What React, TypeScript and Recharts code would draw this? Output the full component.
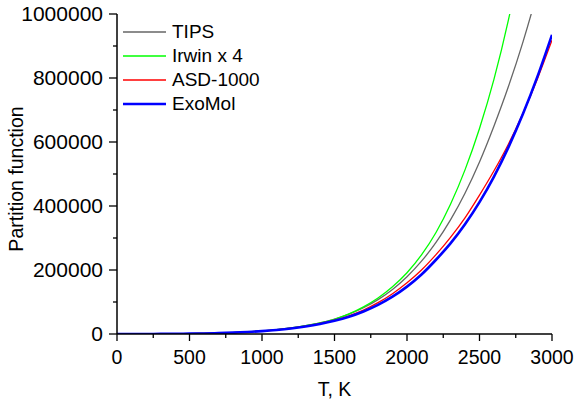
import React from 'react';
import { LineChart, Line, XAxis, YAxis, Legend, Label } from 'recharts';

const temperatures = [0, 100, 200, 300, 400, 500, 600, 700, 800, 900, 1000, 1100, 1200, 1300, 1400, 1500, 1600, 1700, 1800, 1900, 2000, 2100, 2200, 2300, 2400, 2500, 2600, 2700, 2800, 2900, 3000];

const tips = [1, 30, 125, 315, 630, 1080, 1840, 2950, 4450, 6600, 9500, 13500, 18800, 25800, 34600, 46400, 62000, 82000, 107500, 139400, 179000, 227500, 286300, 356800, 440100, 537600, 650100, 774000, 913000, 1071000, 1251000];

const irwinX4 = [4, 32, 128, 320, 640, 1100, 1860, 2980, 4500, 6650, 9600, 13600, 19000, 26000, 35000, 46000, 62800, 84800, 112700, 147700, 191500, 247200, 317300, 405500, 512900, 642300, 796300, 982400, 1205000, 1472000, 1789000];

const asd1000 = [1, 30, 125, 310, 620, 1060, 1800, 2880, 4330, 6400, 9200, 13000, 18000, 24500, 32800, 43000, 57000, 75000, 98000, 126000, 160000, 200000, 248000, 302000, 363000, 434000, 510000, 594000, 690000, 798000, 918000];

const exoMol = [1, 30, 120, 300, 600, 1030, 1750, 2800, 4200, 6200, 8900, 12500, 17200, 23400, 31300, 41300, 54000, 70500, 91000, 116500, 148000, 186000, 232000, 283000, 343000, 412000, 492000, 584000, 688000, 805000, 935000];

const xTicks = [0, 250, 500, 750, 1000, 1250, 1500, 1750, 2000, 2250, 2500, 2750, 3000];
const xTopTicks = [0, 500, 1000, 1500, 2000, 2500, 3000];
const yTicks = [0, 100000, 200000, 300000, 400000, 500000, 600000, 700000, 800000, 900000, 1000000];
const yRightTicks = [0, 200000, 400000, 600000, 800000, 1000000];

const series = [
  { key: 'tips', name: 'TIPS', color: '#666666', width: 1.3 },
  { key: 'irwin', name: 'Irwin x 4', color: '#00FF00', width: 1.3 },
  { key: 'asd', name: 'ASD-1000', color: '#FF0000', width: 1.3 },
  { key: 'exomol', name: 'ExoMol', color: '#0000FF', width: 2.6 },
];

const data = temperatures.map((t, i) => ({
  t,
  tips: tips[i],
  irwin: irwinX4[i],
  asd: asd1000[i],
  exomol: exoMol[i],
}));

const FONT = "'Liberation Sans', Arial, sans-serif";
const W = 577;
const H = 405;
const PL = 117;
const PR = 552;
const PT = 14;
const PB = 334;

const YLeftTick = (props: any) => {
  const { y, payload } = props;
  const major = payload.value % 200000 === 0;
  return (
    <g>
      <line x1={PL - (major ? 8 : 4)} x2={PL} y1={y} y2={y} stroke="#000" strokeWidth={1.3} />
      {major && (
        <text x={PL - 14} y={y} dy="0.355em" textAnchor="end" fontFamily={FONT} fontSize={21} fill="#000">
          {payload.value}
        </text>
      )}
    </g>
  );
};

const XBottomTick = (props: any) => {
  const { x, payload } = props;
  const major = payload.value % 500 === 0;
  return (
    <g>
      <line x1={x} x2={x} y1={PB} y2={PB + (major ? 7 : 4)} stroke="#000" strokeWidth={1.3} />
      {major && (
        <text x={x} y={PB + 16} dy="0.71em" textAnchor="middle" fontFamily={FONT} fontSize={19.5} fill="#000">
          {payload.value}
        </text>
      )}
    </g>
  );
};

const XTopTick = (props: any) => {
  const { x } = props;
  return <line x1={x} x2={x} y1={PT} y2={PT - 7} stroke="#000" strokeWidth={1.3} />;
};

const YRightTick = (props: any) => {
  const { y } = props;
  return <line x1={PR} x2={PR + 8} y1={y} y2={y} stroke="#000" strokeWidth={1.3} />;
};

const renderYLabel = () => (
  <text
    x={23}
    y={179}
    transform="rotate(-90, 23, 179)"
    textAnchor="middle"
    fontFamily={FONT}
    fontSize={19.5}
    fill="#000"
  >
    Partition function
  </text>
);

const renderLegend = () => (
  <div style={{ fontFamily: FONT, fontSize: 19, color: '#000' }}>
    {series.map((s) => (
      <div key={s.key} style={{ display: 'flex', alignItems: 'center', height: 24 }}>
        <svg width={43} height={4} style={{ marginRight: 6, display: 'block' }}>
          <line x1={0} y1={2} x2={43} y2={2} stroke={s.color} strokeWidth={s.width} />
        </svg>
        <span style={{ lineHeight: '24px', whiteSpace: 'nowrap' }}>{s.name}</span>
      </div>
    ))}
  </div>
);

export default function App() {
  return (
    <div style={{ position: 'absolute', left: 0, top: 0, width: W, height: H, background: '#fff' }}>
      <LineChart width={W} height={H} data={data} margin={{ top: PT, right: W - PR, bottom: 0, left: 0 }}>
        <XAxis
          dataKey="t"
          type="number"
          domain={[0, 3000]}
          ticks={xTicks}
          interval={0}
          allowDataOverflow
          height={H - PB}
          tickLine={false}
          tick={<XBottomTick />}
          axisLine={{ stroke: '#000', strokeWidth: 1.5 }}
        >
          <Label value="T, K" position="insideBottom" offset={9} style={{ fontFamily: FONT, fontSize: 19.5, fill: '#000' }} />
        </XAxis>
        <XAxis
          xAxisId="top"
          dataKey="t"
          type="number"
          orientation="top"
          domain={[0, 3000]}
          ticks={xTopTicks}
          interval={0}
          allowDataOverflow
          height={0}
          tickLine={false}
          tick={<XTopTick />}
          axisLine={{ stroke: '#000', strokeWidth: 1.5 }}
        />
        <YAxis
          type="number"
          domain={[0, 1000000]}
          ticks={yTicks}
          interval={0}
          allowDataOverflow
          width={PL}
          tickLine={false}
          tick={<YLeftTick />}
          axisLine={{ stroke: '#000', strokeWidth: 1.5 }}
          label={renderYLabel}
        />
        <YAxis
          yAxisId="right"
          type="number"
          orientation="right"
          domain={[0, 1000000]}
          ticks={yRightTicks}
          interval={0}
          allowDataOverflow
          width={0}
          tickLine={false}
          tick={<YRightTick />}
          axisLine={{ stroke: '#000', strokeWidth: 1.5 }}
        />
        <Legend
          layout="vertical"
          align="center"
          verticalAlign="middle"
          content={renderLegend}
          wrapperStyle={{ position: 'absolute', left: 123, top: 20, width: 'auto', height: 'auto' }}
        />
        {series.map((s) => (
          <Line
            key={s.key}
            dataKey={s.key}
            name={s.name}
            type="monotone"
            stroke={s.color}
            strokeWidth={s.width}
            dot={false}
            activeDot={false}
            isAnimationActive={false}
          />
        ))}
      </LineChart>
    </div>
  );
}
